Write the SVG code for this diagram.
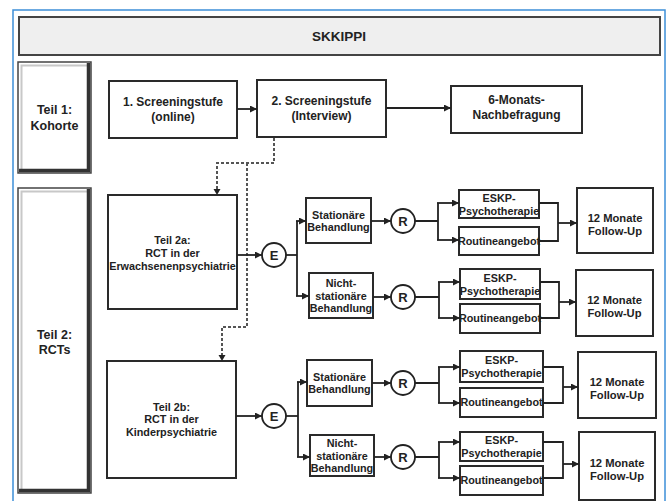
<svg xmlns="http://www.w3.org/2000/svg" width="668" height="501" viewBox="0 0 668 501">
<defs>
<marker id="ah" markerUnits="userSpaceOnUse" markerWidth="7" markerHeight="7" refX="7" refY="3.5" orient="auto">
<path d="M0,0 L7,3.5 L0,7 z" fill="#222"/>
</marker>
</defs>
<style>
.box{fill:#fff;stroke:#2a2a2a;stroke-width:2}
.t{font-family:"Liberation Sans",Arial,sans-serif;font-weight:bold;fill:#222;text-anchor:middle}
.t12{font-size:12px}
.t11{font-size:10.8px}
.ln{fill:none;stroke:#222;stroke-width:1.8}
.ar{fill:none;stroke:#222;stroke-width:1.8;marker-end:url(#ah)}
.ds{fill:none;stroke:#555;stroke-width:2;stroke-dasharray:3,2}
.circ{fill:#fff;stroke:#222;stroke-width:1.8}
</style>
<rect x="0" y="0" width="668" height="501" fill="#fff"/>
<rect x="13" y="10" width="652" height="500" fill="none" stroke="#3d8fd8" stroke-width="1.5"/>

<g id="title">
<rect x="19" y="17" width="641" height="38" fill="#efefef" stroke="#444" stroke-width="2"/>
<text class="t" x="339" y="41" font-size="13.5">SKKIPPI</text>
</g>

<g id="teil1">
<rect x="18" y="62" width="73" height="111" fill="#fff" stroke="#444" stroke-width="1.5"/>
<polyline points="21.5,170 21.5,65.5 88,65.5" fill="none" stroke="#c8c8c8" stroke-width="2"/>
<polyline points="88.5,63 88.5,170.5 19,170.5" fill="none" stroke="#333" stroke-width="3.5"/>
<text class="t" x="54.5" y="114" font-size="12.5">Teil 1:</text>
<text class="t" x="54.5" y="130" font-size="12.5">Kohorte</text>
</g>

<g id="teil2">
<rect x="18" y="188" width="73" height="305" fill="#fff" stroke="#444" stroke-width="1.5"/>
<polyline points="21.5,490 21.5,191.5 88,191.5" fill="none" stroke="#c8c8c8" stroke-width="2"/>
<polyline points="88.5,189 88.5,490.5 19,490.5" fill="none" stroke="#333" stroke-width="3.5"/>
<text class="t" x="54.5" y="339" font-size="12.5">Teil 2:</text>
<text class="t" x="54.5" y="354" font-size="12.5">RCTs</text>
</g>

<g id="screen1">
<rect class="box" x="109" y="81" width="128" height="57"/>
<text class="t t12" x="173" y="106">1. Screeningstufe</text>
<text class="t t12" x="173" y="121">(online)</text>
</g>
<g id="screen2">
<rect class="box" x="257" y="80" width="129" height="57"/>
<text class="t t12" x="321.5" y="105">2. Screeningstufe</text>
<text class="t t12" x="321.5" y="120">(Interview)</text>
</g>
<g id="monat6">
<rect class="box" x="451" y="86" width="131" height="47"/>
<text class="t t12" x="516.5" y="104">6-Monats-</text>
<text class="t t12" x="516.5" y="119">Nachbefragung</text>
</g>

<g id="teil2a">
<rect class="box" x="108" y="195" width="129" height="114"/>
<text class="t t11" x="172.5" y="244">Teil 2a:</text>
<text class="t t11" x="172.5" y="257">RCT in der</text>
<text class="t t11" x="172.5" y="270">Erwachsenenpsychiatrie</text>
</g>
<g id="teil2b">
<rect class="box" x="107" y="361" width="129" height="117"/>
<text class="t t11" x="171.5" y="411">Teil 2b:</text>
<text class="t t11" x="171.5" y="423">RCT in der</text>
<text class="t t11" x="171.5" y="436">Kinderpsychiatrie</text>
</g>

<g id="E_a"><circle class="circ" cx="274" cy="255" r="12"/><text class="t" x="274" y="260" font-size="13" font-weight="normal">E</text></g>
<g id="E_b"><circle class="circ" cx="274" cy="416" r="12"/><text class="t" x="274" y="421" font-size="13" font-weight="normal">E</text></g>

<g id="stat_a">
<rect class="box" x="306" y="198" width="65" height="45"/>
<text class="t t11" x="338.5" y="219">Stationäre</text>
<text class="t t11" x="338.5" y="231">Behandlung</text>
</g>
<g id="nicht_a">
<rect class="box" x="309" y="273" width="64" height="45"/>
<text class="t t11" x="341" y="287">Nicht-</text>
<text class="t t11" x="341" y="300">stationäre</text>
<text class="t t11" x="341" y="312">Behandlung</text>
</g>
<g id="stat_b">
<rect class="box" x="307" y="360" width="65" height="46"/>
<text class="t t11" x="339.5" y="381">Stationäre</text>
<text class="t t11" x="339.5" y="393">Behandlung</text>
</g>
<g id="nicht_b">
<rect class="box" x="310" y="435" width="64" height="41"/>
<text class="t t11" x="342" y="447">Nicht-</text>
<text class="t t11" x="342" y="460">stationäre</text>
<text class="t t11" x="342" y="472">Behandlung</text>
</g>

<g id="R_a1"><circle class="circ" cx="403" cy="221" r="12"/><text class="t" x="403" y="226" font-size="13" font-weight="normal">R</text></g>
<g id="R_a2"><circle class="circ" cx="403" cy="297" r="12"/><text class="t" x="403" y="302" font-size="13" font-weight="normal">R</text></g>
<g id="R_b1"><circle class="circ" cx="403" cy="383" r="12"/><text class="t" x="403" y="388" font-size="13" font-weight="normal">R</text></g>
<g id="R_b2"><circle class="circ" cx="403" cy="457" r="12"/><text class="t" x="403" y="462" font-size="13" font-weight="normal">R</text></g>

<g id="eskp_a1"><rect class="box" x="459" y="190" width="80" height="28"/><text class="t t11" x="499" y="202">ESKP-</text><text class="t t11" x="499" y="215">Psychotherapie</text></g>
<g id="rout_a1"><rect class="box" x="459" y="227" width="80" height="28"/><text class="t t11" x="499" y="245">Routineangebot</text></g>
<g id="eskp_a2"><rect class="box" x="460" y="269" width="80" height="30"/><text class="t t11" x="500" y="282">ESKP-</text><text class="t t11" x="500" y="295">Psychotherapie</text></g>
<g id="rout_a2"><rect class="box" x="460" y="304" width="80" height="29"/><text class="t t11" x="500" y="322">Routineangebot</text></g>
<g id="eskp_b1"><rect class="box" x="460" y="351" width="83" height="31"/><text class="t t11" x="501.5" y="364">ESKP-</text><text class="t t11" x="501.5" y="377">Psychotherapie</text></g>
<g id="rout_b1"><rect class="box" x="460" y="388" width="83" height="29"/><text class="t t11" x="501.5" y="406">Routineangebot</text></g>
<g id="eskp_b2"><rect class="box" x="460" y="432" width="83" height="29"/><text class="t t11" x="501.5" y="444">ESKP-</text><text class="t t11" x="501.5" y="457">Psychotherapie</text></g>
<g id="rout_b2"><rect class="box" x="460" y="466" width="83" height="29"/><text class="t t11" x="501.5" y="484">Routineangebot</text></g>

<g id="fu_a1"><rect class="box" x="577" y="188" width="76" height="65"/><text class="t" font-size="11.2" x="615" y="222">12 Monate</text><text class="t" font-size="11.2" x="615" y="235">Follow-Up</text></g>
<g id="fu_a2"><rect class="box" x="576" y="270" width="77" height="66"/><text class="t" font-size="11.2" x="614.5" y="304">12 Monate</text><text class="t" font-size="11.2" x="614.5" y="317">Follow-Up</text></g>
<g id="fu_b1"><rect class="box" x="578" y="352" width="78" height="66"/><text class="t" font-size="11.2" x="617" y="386">12 Monate</text><text class="t" font-size="11.2" x="617" y="399">Follow-Up</text></g>
<g id="fu_b2"><rect class="box" x="579" y="432" width="76" height="68"/><text class="t" font-size="11.2" x="617" y="467">12 Monate</text><text class="t" font-size="11.2" x="617" y="480">Follow-Up</text></g>

<g id="connectors">
<path class="ar" d="M237,109 H257"/>
<path class="ar" d="M386,108 H451"/>
<path class="ds" d="M274,138 V163 H217 V189"/>
<path d="M213.5,189 L217,195 L220.5,189 z" fill="#222"/>
<path class="ds" d="M247,163 V327 H222 V355"/>
<path d="M218.5,355 L222,361 L225.5,355 z" fill="#222"/>

<path class="ar" d="M237,255 H262"/>
<path class="ln" d="M286,255 H297"/>
<path class="ln" d="M297,221 V296"/>
<path class="ar" d="M296,221 H306"/>
<path class="ar" d="M296,296 H309"/>

<path class="ar" d="M236,416 H262"/>
<path class="ln" d="M286,416 H298"/>
<path class="ln" d="M298,382 V457"/>
<path class="ar" d="M297,382 H307"/>
<path class="ar" d="M297,457 H310"/>

<path class="ar" d="M371,221 H391"/>
<path class="ln" d="M415,221 H438 M438,203 V240"/>
<path class="ar" d="M437,203 H459"/>
<path class="ar" d="M437,240 H459"/>
<path class="ln" d="M539,203 H558 V241 H539"/>
<path class="ar" d="M558,223 H577"/>

<path class="ar" d="M373,297 H391"/>
<path class="ln" d="M415,297 H439 M439,282 V318"/>
<path class="ar" d="M438,282 H460"/>
<path class="ar" d="M438,318 H460"/>
<path class="ln" d="M540,282 H559 V318 H540"/>
<path class="ar" d="M559,302 H576"/>

<path class="ar" d="M372,383 H391"/>
<path class="ln" d="M415,383 H439 M439,367 V403"/>
<path class="ar" d="M438,367 H460"/>
<path class="ar" d="M438,403 H460"/>
<path class="ln" d="M543,367 H563 V403 H543"/>
<path class="ar" d="M563,387 H578"/>

<path class="ar" d="M374,457 H391"/>
<path class="ln" d="M415,457 H439 M439,442 V478"/>
<path class="ar" d="M438,442 H460"/>
<path class="ar" d="M438,478 H460"/>
<path class="ln" d="M543,442 H563 V478 H543"/>
<path class="ar" d="M563,464 H579"/>
</g>
</svg>
